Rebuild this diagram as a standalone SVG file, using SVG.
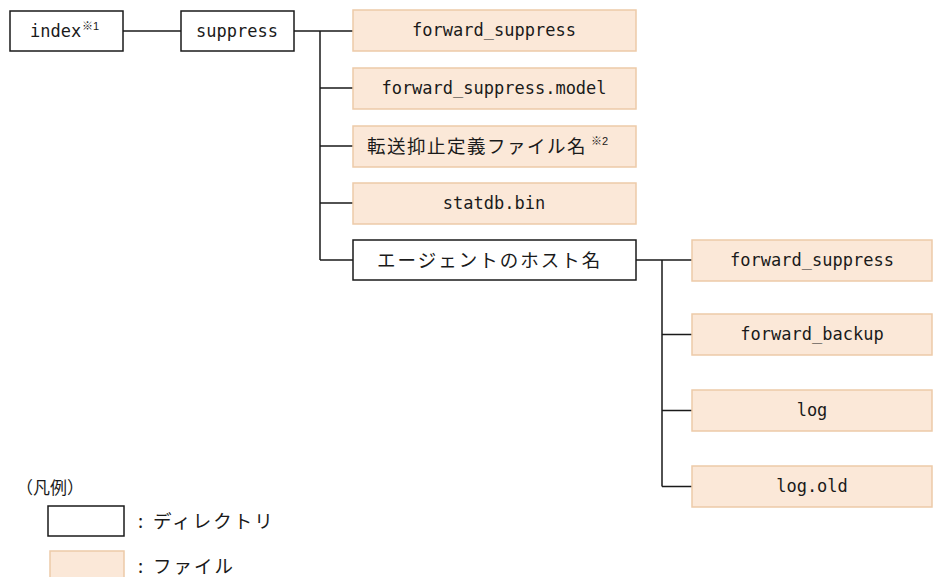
<svg xmlns="http://www.w3.org/2000/svg" width="934" height="577" viewBox="0 0 934 577">
<style>
.dir{fill:#ffffff;stroke:#1a1a1a;stroke-width:1.5}
.file{fill:#fbe8d8;stroke:#edcaa8;stroke-width:1.5}
.t{font-family:"DejaVu Sans Mono","Noto Sans CJK JP",monospace;font-size:17px;fill:#1a1a1a;text-anchor:middle}
.j{font-family:"Noto Sans CJK JP","Liberation Sans",sans-serif;font-size:18.5px;fill:#1a1a1a;letter-spacing:2px}
.sup{font-family:"Liberation Sans","Noto Sans CJK JP",sans-serif;font-size:11px;fill:#1a1a1a}
.c{fill:none;stroke:#1a1a1a;stroke-width:1.5}
</style>
<g id="connectors">
<path class="c" d="M123 31H181"/>
<path class="c" d="M294 31H353M320 31V260M320 88H353M320 146H353M320 203H353M320 260H353"/>
<path class="c" d="M636 260H692M662 260V486.5M662 334.5H692M662 410.5H692M662 486.5H692"/>
</g>
<g id="n-index">
<rect class="dir" x="10" y="11" width="113" height="40"/>
<text class="t" x="30" y="37" style="text-anchor:start">index</text>
<text class="sup" x="82" y="30">※1</text>
</g>
<g id="n-suppress">
<rect class="dir" x="181" y="11" width="113" height="40"/>
<text class="t" x="237" y="37">suppress</text>
</g>
<g id="n-fs">
<rect class="file" x="353" y="10" width="283" height="41"/>
<text class="t" x="494" y="36">forward_suppress</text>
</g>
<g id="n-fsm">
<rect class="file" x="353" y="68" width="283" height="41"/>
<text class="t" x="494" y="94">forward_suppress.model</text>
</g>
<g id="n-def">
<rect class="file" x="353" y="126" width="283" height="41"/>
<text class="j" x="367" y="153" style="letter-spacing:1.5px">転送抑止定義ファイル名</text>
<text class="sup" x="591" y="145">※2</text>
</g>
<g id="n-statdb">
<rect class="file" x="353" y="183" width="283" height="41"/>
<text class="t" x="494" y="209">statdb.bin</text>
</g>
<g id="n-agent">
<rect class="dir" x="353" y="240" width="283" height="40"/>
<text class="j" x="377" y="267">エージェントのホスト名</text>
</g>
<g id="n-afs">
<rect class="file" x="692" y="240" width="240" height="41"/>
<text class="t" x="812" y="266">forward_suppress</text>
</g>
<g id="n-afb">
<rect class="file" x="692" y="314" width="240" height="41"/>
<text class="t" x="812" y="340">forward_backup</text>
</g>
<g id="n-log">
<rect class="file" x="692" y="390" width="240" height="41"/>
<text class="t" x="812" y="416">log</text>
</g>
<g id="n-logold">
<rect class="file" x="692" y="466" width="240" height="41"/>
<text class="t" x="812" y="492">log.old</text>
</g>
<g id="legend">
<text class="j" x="16" y="494" style="letter-spacing:0;font-size:17px">（凡例）</text>
<rect class="dir" x="48" y="506" width="76" height="30"/>
<text class="j" x="138" y="528">:</text>
<text class="j" x="153" y="528">ディレクトリ</text>
<rect class="file" x="50" y="551" width="74" height="30"/>
<text class="j" x="138" y="573">:</text>
<text class="j" x="153" y="573">ファイル</text>
</g>
</svg>
